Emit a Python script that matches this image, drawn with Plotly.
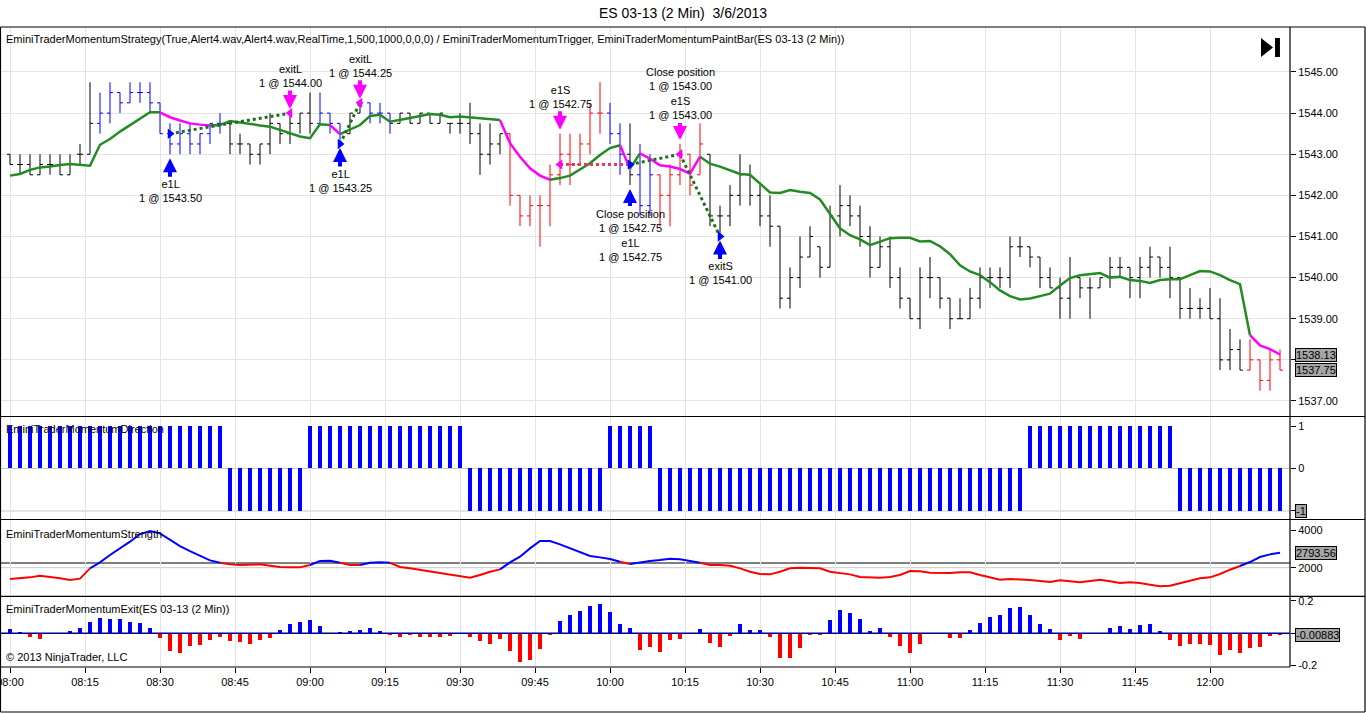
import pandas as pd
import plotly.graph_objects as go

# ---------- data (ES 03-13, 2 min bars, 3/6/2013) ----------
times = list(pd.date_range("2013-03-06 08:00", periods=128, freq="2min"))
time_ticks = list(pd.date_range("2013-03-06 08:00", "2013-03-06 12:00", freq="15min"))

opens = [1543.00, 1542.75, 1542.75, 1542.50, 1542.75, 1542.75, 1542.50, 1543.00, 1543.00, 1543.75,
         1544.00, 1544.50, 1544.25, 1544.50, 1544.50, 1544.25, 1543.50, 1543.25, 1543.50, 1543.25,
         1543.50, 1543.75, 1543.75, 1543.25, 1543.25, 1543.00, 1543.25, 1543.75, 1543.50, 1543.75,
         1544.00, 1543.75, 1544.00, 1543.75, 1543.50, 1544.00, 1544.25, 1544.00, 1544.00, 1543.75,
         1544.00, 1543.75, 1544.00, 1543.75, 1543.75, 1543.75, 1543.75, 1543.50, 1543.00, 1543.25,
         1543.50, 1542.00, 1541.50, 1541.75, 1541.75, 1542.50, 1543.00, 1542.75, 1543.25, 1544.00,
         1544.00, 1543.50, 1543.00, 1542.50, 1541.75, 1542.50, 1542.00, 1542.50, 1543.00, 1542.50,
         1543.00, 1541.50, 1541.50, 1542.00, 1542.50, 1542.00, 1541.50, 1541.25, 1539.50, 1540.00,
         1540.50, 1540.75, 1540.25, 1541.50, 1541.75, 1541.50, 1541.00, 1540.25, 1540.75, 1540.00,
         1539.50, 1539.00, 1540.00, 1540.00, 1539.50, 1539.00, 1539.00, 1539.50, 1540.00, 1540.00,
         1540.00, 1540.75, 1540.75, 1540.50, 1540.00, 1539.75, 1539.50, 1540.00, 1539.75, 1539.75,
         1540.00, 1540.25, 1540.25, 1540.00, 1540.25, 1540.50, 1540.25, 1540.00, 1539.25, 1539.25,
         1539.25, 1539.00, 1538.00, 1538.25, 1537.75, 1538.00, 1537.50, 1538.00]
highs = [1543.00, 1543.00, 1543.00, 1543.00, 1543.00, 1543.00, 1543.00, 1543.25, 1544.75, 1544.50,
         1544.75, 1544.50, 1544.75, 1544.75, 1544.75, 1544.25, 1543.75, 1543.75, 1543.75, 1543.50,
         1543.75, 1544.00, 1543.75, 1543.50, 1543.25, 1543.25, 1544.00, 1543.75, 1544.00, 1544.00,
         1544.50, 1544.50, 1544.00, 1543.75, 1544.00, 1544.25, 1544.25, 1544.25, 1544.00, 1544.00,
         1544.00, 1544.00, 1544.00, 1544.00, 1543.75, 1544.00, 1544.25, 1543.75, 1543.75, 1543.50,
         1543.50, 1542.00, 1542.00, 1542.00, 1542.75, 1543.50, 1543.50, 1543.50, 1544.25, 1544.75,
         1544.25, 1543.75, 1543.75, 1543.25, 1543.00, 1542.50, 1542.75, 1543.25, 1543.00, 1543.75,
         1543.00, 1541.75, 1542.25, 1543.00, 1542.75, 1542.25, 1542.00, 1541.25, 1540.25, 1541.00,
         1541.25, 1540.75, 1541.75, 1542.25, 1542.00, 1541.75, 1541.25, 1541.00, 1541.00, 1540.25,
         1539.50, 1540.25, 1540.50, 1540.00, 1539.50, 1539.50, 1539.75, 1540.25, 1540.25, 1540.25,
         1541.00, 1541.00, 1540.75, 1540.50, 1540.25, 1540.00, 1540.50, 1540.00, 1540.00, 1540.00,
         1540.50, 1540.50, 1540.25, 1540.50, 1540.75, 1540.50, 1540.75, 1540.00, 1539.75, 1539.50,
         1539.75, 1539.50, 1538.75, 1538.50, 1538.50, 1538.00, 1538.25, 1538.25]
lows = [1542.75, 1542.50, 1542.50, 1542.50, 1542.50, 1542.50, 1542.50, 1542.75, 1543.00, 1543.50,
        1543.75, 1544.00, 1544.25, 1544.25, 1544.00, 1543.50, 1543.00, 1543.00, 1543.00, 1543.00,
        1543.25, 1543.50, 1543.00, 1543.00, 1542.75, 1542.75, 1543.00, 1543.25, 1543.25, 1543.50,
        1543.50, 1543.75, 1543.50, 1543.25, 1543.50, 1544.00, 1543.75, 1543.75, 1543.50, 1543.75,
        1543.75, 1543.75, 1543.75, 1543.75, 1543.50, 1543.50, 1543.25, 1542.50, 1542.75, 1543.00,
        1541.75, 1541.25, 1541.25, 1540.75, 1541.25, 1542.25, 1542.25, 1542.75, 1543.00, 1543.50,
        1543.25, 1542.50, 1542.25, 1541.50, 1541.50, 1541.25, 1541.25, 1542.25, 1542.00, 1542.50,
        1541.25, 1541.00, 1541.25, 1541.75, 1541.75, 1541.25, 1540.75, 1539.25, 1539.25, 1539.75,
        1540.50, 1540.00, 1540.25, 1541.00, 1541.25, 1540.75, 1540.00, 1540.25, 1539.75, 1539.25,
        1539.00, 1538.75, 1539.50, 1539.25, 1538.75, 1539.00, 1539.00, 1539.25, 1539.75, 1539.75,
        1539.75, 1540.50, 1540.25, 1539.75, 1539.75, 1539.00, 1539.00, 1539.50, 1539.00, 1539.75,
        1539.75, 1540.00, 1539.50, 1539.50, 1540.00, 1540.00, 1539.50, 1539.00, 1539.00, 1539.00,
        1539.00, 1537.75, 1537.75, 1537.75, 1537.75, 1537.25, 1537.25, 1537.75]
closes = [1542.75, 1542.75, 1542.50, 1542.75, 1542.75, 1542.50, 1542.75, 1543.00, 1543.75, 1544.00,
          1544.50, 1544.25, 1544.50, 1544.50, 1544.25, 1543.50, 1543.25, 1543.50, 1543.25, 1543.50,
          1543.75, 1543.75, 1543.25, 1543.25, 1543.00, 1543.25, 1543.75, 1543.50, 1543.75, 1544.00,
          1543.75, 1544.00, 1543.75, 1543.50, 1544.00, 1544.25, 1544.00, 1544.00, 1543.75, 1544.00,
          1543.75, 1544.00, 1543.75, 1544.00, 1543.75, 1543.75, 1543.50, 1543.00, 1543.25, 1543.50,
          1542.00, 1541.50, 1541.75, 1541.75, 1542.50, 1543.00, 1542.75, 1543.25, 1544.00, 1544.00,
          1543.50, 1543.00, 1542.50, 1541.75, 1542.50, 1542.00, 1542.50, 1543.00, 1542.25, 1543.25,
          1541.50, 1541.50, 1542.00, 1542.50, 1542.00, 1541.50, 1541.25, 1539.50, 1540.00, 1540.50,
          1541.00, 1540.25, 1541.50, 1541.75, 1541.50, 1541.00, 1540.25, 1540.75, 1540.00, 1539.50,
          1539.00, 1540.00, 1540.00, 1539.50, 1539.00, 1539.00, 1539.50, 1540.00, 1540.00, 1540.00,
          1540.75, 1540.75, 1540.50, 1540.00, 1539.75, 1539.50, 1540.00, 1539.75, 1539.75, 1540.00,
          1540.25, 1540.25, 1540.00, 1540.25, 1540.50, 1540.25, 1540.00, 1539.25, 1539.25, 1539.25,
          1539.00, 1538.00, 1538.25, 1537.75, 1538.00, 1537.50, 1538.00, 1537.75]

# EminiTraderMomentumTrigger line
trigger = [1542.48, 1542.52, 1542.62, 1542.68, 1542.70, 1542.74, 1542.76, 1542.74, 1542.72, 1543.23,
           1543.37, 1543.55, 1543.71, 1543.88, 1544.02, 1544.02, 1543.90, 1543.82, 1543.75, 1543.72,
           1543.70, 1543.71, 1543.81, 1543.77, 1543.73, 1543.70, 1543.67, 1543.59, 1543.51, 1543.43,
           1543.39, 1543.73, 1543.71, 1543.49, 1543.59, 1543.71, 1543.93, 1543.96, 1543.79, 1543.83,
           1543.88, 1543.93, 1543.98, 1543.96, 1543.90, 1543.92, 1543.90, 1543.88, 1543.85, 1543.83,
           1543.27, 1542.94, 1542.66, 1542.48, 1542.38, 1542.42, 1542.48, 1542.64, 1542.78, 1542.98,
           1543.15, 1543.22, 1542.65, 1543.02, 1542.89, 1542.73, 1542.70, 1542.64, 1542.53, 1542.94,
           1542.77, 1542.70, 1542.61, 1542.52, 1542.50, 1542.29, 1542.07, 1542.06, 1542.13, 1542.09,
           1542.06, 1541.90, 1541.55, 1541.20, 1541.03, 1540.93, 1540.79, 1540.88, 1540.96, 1540.97,
           1540.97, 1540.88, 1540.89, 1540.76, 1540.57, 1540.30, 1540.15, 1540.06, 1539.89, 1539.69,
           1539.55, 1539.47, 1539.49, 1539.55, 1539.61, 1539.81, 1539.99, 1540.06, 1540.08, 1540.11,
           1540.00, 1540.02, 1539.94, 1539.92, 1539.87, 1539.94, 1539.96, 1539.96, 1540.06, 1540.16,
           1540.15, 1540.06, 1539.94, 1539.84, 1538.60, 1538.35, 1538.26, 1538.13]
# bars where the trigger segment is painted magenta
trigger_down_bars = [16, 17, 18, 19, 20, 33, 50, 51, 52, 53, 54, 62, 64, 65, 66, 67, 68, 69,
                     125, 126, 127]

# EminiTraderMomentumDirection
direction = [1, 1, 1, 1, 1, 1, 1, 1, 1, 1, 1, 1, 1, 1, 1, 1, 1, 1, 1, 1,
             1, 1, -1, -1, -1, -1, -1, -1, -1, -1, 1, 1, 1, 1, 1, 1, 1, 1, 1, 1,
             1, 1, 1, 1, 1, 1, -1, -1, -1, -1, -1, -1, -1, -1, -1, -1, -1, -1, -1, -1,
             1, 1, 1, 1, 1, -1, -1, -1, -1, -1, -1, -1, -1, -1, -1, -1, -1, -1, -1, -1,
             -1, -1, -1, -1, -1, -1, -1, -1, -1, -1, -1, -1, -1, -1, -1, -1, -1, -1, -1, -1,
             -1, -1, 1, 1, 1, 1, 1, 1, 1, 1, 1, 1, 1, 1, 1, 1, 1, -1, -1, -1,
             -1, -1, -1, -1, -1, -1, -1, -1]

# EminiTraderMomentumStrength
strength = [1399, 1434, 1487, 1576, 1523, 1434, 1346, 1417, 1965, 2283,
            2672, 3025, 3379, 3786, 3945, 3821, 3467, 3149, 2884, 2636,
            2389, 2265, 2177, 2141, 2141, 2177, 2106, 2035, 2018, 2018,
            2141, 2354, 2371, 2260, 2141, 2141, 2265, 2290, 2260, 2035,
            1965, 1876, 1788, 1700, 1646, 1540, 1470, 1611, 1788, 1912,
            2280, 2583, 3025, 3414, 3414, 3238, 3025, 2796, 2619, 2548,
            2460, 2318, 2195, 2283, 2354, 2407, 2477, 2442, 2354, 2262,
            2141, 2141, 2106, 1965, 1788, 1664, 1646, 1788, 1965, 2000,
            1982, 1965, 1788, 1699, 1646, 1505, 1487, 1470, 1505, 1611,
            1823, 1806, 1735, 1717, 1717, 1752, 1752, 1611, 1470, 1364,
            1399, 1381, 1346, 1293, 1240, 1328, 1275, 1222, 1293, 1364,
            1275, 1187, 1222, 1187, 1098, 1010, 1045, 1187, 1310, 1434,
            1487, 1664, 1894, 2088, 2300, 2566, 2707, 2793.56]
strength_threshold = 2250

# EminiTraderMomentumExit
exit_vals = [0.027, 0.010, -0.020, -0.035, 0.0, -0.003, 0.017, 0.035, 0.070, 0.095,
             0.090, 0.089, 0.072, 0.066, 0.035, -0.027, -0.107, -0.120, -0.078, -0.072,
             -0.039, -0.020, -0.047, -0.056, -0.066, -0.041, -0.027, 0.020, 0.060, 0.070,
             0.082, 0.045, -0.002, 0.004, 0.016, 0.020, 0.035, 0.014, -0.006, -0.020,
             -0.010, -0.020, -0.020, -0.020, -0.015, -0.002, -0.023, -0.045, -0.064, -0.035,
             -0.107, -0.175, -0.165, -0.095, -0.008, 0.076, 0.113, 0.140, 0.169, 0.181,
             0.132, 0.058, 0.033, -0.101, -0.082, -0.113, -0.039, -0.033, -0.002, 0.027,
             -0.058, -0.082, -0.016, 0.058, 0.021, 0.021, -0.020, -0.155, -0.155, -0.093,
             -0.008, -0.008, 0.082, 0.144, 0.124, 0.089, 0.016, 0.033, -0.020, -0.076,
             -0.120, -0.064, -0.002, -0.002, -0.027, -0.027, 0.021, 0.064, 0.101, 0.113,
             0.157, 0.163, 0.113, 0.058, 0.027, -0.039, -0.015, -0.033, -0.002, -0.002,
             0.033, 0.045, 0.027, 0.052, 0.058, 0.014, -0.039, -0.076, -0.064, -0.064,
             -0.070, -0.132, -0.101, -0.120, -0.089, -0.082, -0.015, -0.00883]

# Strategy fills
fill_bars = [16, 28, 33, 35, 55, 62, 67, 71]
fill_prices = [1543.50, 1544.00, 1543.25, 1544.25, 1542.75, 1542.75, 1543.00, 1541.00]
fill_actions = ["buy", "sell", "buy", "sell", "sell", "buy", "sell", "buy"]
fill_labels = ["e1L<br>1 @ 1543.50", "exitL<br>1 @ 1544.00",
               "e1L<br>1 @ 1543.25", "exitL<br>1 @ 1544.25",
               "e1S<br>1 @ 1542.75",
               "Close position<br>1 @ 1542.75<br>e1L<br>1 @ 1542.75",
               "Close position<br>1 @ 1543.00<br>e1S<br>1 @ 1543.00",
               "exitS<br>1 @ 1541.00"]
# trades as (entry fill, exit fill)
trade_entry = [0, 2, 4, 5, 6]
trade_exit = [1, 3, 5, 6, 7]

title_text = "ES 03-13 (2 Min)  3/6/2013"
strategy_text = ("EminiTraderMomentumStrategy(True,Alert4.wav,Alert4.wav,RealTime,1,500,1000,0,0,0) / "
                 "EminiTraderMomentumTrigger, EminiTraderMomentumPaintBar(ES 03-13 (2 Min))")

########## styling ##########
FONT = "Liberation Sans, Arial, sans-serif"
BLUE = "#0000FF"
RED = "#FF0000"
MAGENTA = "#FF00FF"
GREEN = "#228B22"
GRID = "#E4E4E4"


def colored_runs(xs, ys, flags, wanted):
    # segment k-1 -> k gets the colour of bar k; join consecutive segments
    out_x, out_y = [], []
    last = None
    for k in range(1, len(ys)):
        if flags[k] != wanted:
            continue
        if last != k - 1:
            if out_x:
                out_x.append(None)
                out_y.append(None)
            out_x.append(xs[k - 1])
            out_y.append(ys[k - 1])
        out_x.append(xs[k])
        out_y.append(ys[k])
        last = k
    return out_x, out_y


fig = go.Figure()

# ---- price bars painted by strength / direction ----
paint = []
for k in range(len(closes)):
    if strength[k] >= strength_threshold:
        paint.append(BLUE if direction[k] > 0 else RED)
    else:
        paint.append("#000000")

for color in ["#000000", BLUE, RED]:
    idx = [k for k in range(len(closes)) if paint[k] == color]
    fig.add_trace(go.Ohlc(
        x=[times[k] for k in idx],
        open=[opens[k] for k in idx],
        high=[highs[k] for k in idx],
        low=[lows[k] for k in idx],
        close=[closes[k] for k in idx],
        increasing=dict(line=dict(color=color, width=1)),
        decreasing=dict(line=dict(color=color, width=1)),
        tickwidth=0.3,
        hoverinfo="skip",
        showlegend=False,
        yaxis="y",
    ))

# ---- trigger line, green / magenta ----
trig_flags = ["m" if k in trigger_down_bars else "g" for k in range(len(trigger))]
for flag, color in [("g", GREEN), ("m", MAGENTA)]:
    tx, ty = colored_runs(times, trigger, trig_flags, flag)
    fig.add_trace(go.Scatter(x=tx, y=ty, mode="lines", line=dict(color=color, width=2.5),
                             hoverinfo="skip", showlegend=False, yaxis="y"))

# ---- trade lines and fill triangles ----
for e, x in zip(trade_entry, trade_exit):
    if fill_actions[e] == "buy":
        profit = fill_prices[x] - fill_prices[e]
    else:
        profit = fill_prices[e] - fill_prices[x]
    fig.add_trace(go.Scatter(
        x=[times[fill_bars[e]], times[fill_bars[x]]],
        y=[fill_prices[e], fill_prices[x]],
        mode="lines",
        line=dict(color="#1E6E1E" if profit > 0 else "#E8385E", width=3, dash="dot"),
        hoverinfo="skip", showlegend=False, yaxis="y"))

for action, symbol, color in [("buy", "triangle-right", BLUE), ("sell", "triangle-left", MAGENTA)]:
    idx = [i for i in range(len(fill_bars)) if fill_actions[i] == action]
    fig.add_trace(go.Scatter(
        x=[times[fill_bars[i]] for i in idx],
        y=[fill_prices[i] for i in idx],
        mode="markers",
        marker=dict(symbol=symbol, size=9, color=color),
        hoverinfo="skip", showlegend=False, yaxis="y"))

# ---- direction panel ----
fig.add_trace(go.Bar(x=times, y=direction, width=50000, marker=dict(color=BLUE, line=dict(width=0)),
                     hoverinfo="skip", showlegend=False, yaxis="y2"))

# ---- strength panel ----
str_flags = ["b" if v >= strength_threshold else "r" for v in strength]
for flag, color in [("r", RED), ("b", BLUE)]:
    sx, sy = colored_runs(times, strength, str_flags, flag)
    fig.add_trace(go.Scatter(x=sx, y=sy, mode="lines", line=dict(color=color, width=2),
                             hoverinfo="skip", showlegend=False, yaxis="y3"))

# ---- exit histogram ----
fig.add_trace(go.Bar(x=times, y=exit_vals, width=48000,
                     marker=dict(color=[BLUE if v > 0 else RED for v in exit_vals], line=dict(width=0)),
                     hoverinfo="skip", showlegend=False, yaxis="y4"))

########## layout ##########
axis_font = dict(family=FONT, size=11, color="#000000")
yaxis_common = dict(side="right", anchor="x", ticks="outside", ticklen=5, tickcolor="#000000",
                    tickfont=axis_font, zeroline=False, showline=False, fixedrange=True)

price_ticks = [1537, 1538, 1539, 1540, 1541, 1542, 1543, 1544, 1545]
# the 1538 label sits under the last-value boxes
price_ticktext = ["%.2f" % v if v != 1538 else "" for v in price_ticks]

fig.update_layout(
    width=1366, height=713,
    margin=dict(l=1, r=76, t=27, b=46, autoexpand=False),
    paper_bgcolor="white", plot_bgcolor="white",
    font=dict(family=FONT, size=11, color="#000000"),
    title=dict(text=title_text, x=0.5, xanchor="center", y=0.982, yanchor="middle",
               font=dict(family=FONT, size=14, color="#000000")),
    showlegend=False,
    bargap=0,
    xaxis=dict(
        type="date", anchor="y4",
        range=["2013-03-06 07:58:12", "2013-03-06 12:16:00"],
        tickvals=time_ticks, ticktext=[t.strftime("%H:%M") for t in time_ticks],
        ticks="outside", ticklen=5, tickcolor="#000000", tickfont=axis_font,
        ticklabeloverflow="allow",
        showgrid=True, gridcolor=GRID, gridwidth=1,
        rangeslider=dict(visible=False), zeroline=False, showline=False,
    ),
    yaxis=dict(domain=[0.3922, 1.0], range=[1536.635, 1546.094],
               tickvals=price_ticks, ticktext=price_ticktext,
               showgrid=True, gridcolor=GRID, **yaxis_common),
    yaxis2=dict(domain=[0.2313, 0.3906], range=[-1.188, 1.212], tickvals=[1, 0, -1],
                ticktext=["1", "0", ""], showgrid=False, **yaxis_common),
    yaxis3=dict(domain=[0.1125, 0.2281], range=[551, 4477], tickvals=[2000, 4000],
                showgrid=False, **yaxis_common),
    yaxis4=dict(domain=[0.0, 0.1094], range=[-0.2087, 0.2248], tickvals=[-0.2, 0, 0.2],
                ticktext=["-0.2", "", "0.2"], showgrid=False, **yaxis_common),
)

shapes = []
# panel frames (paper coords)
for yp, x1 in [(1.0, 1.0582), (0.3914, 1.0582), (0.2305, 1.0582), (0.1102, 1.0582),
               (0.0, 1.0), (-0.0703, 1.0582)]:
    shapes.append(dict(type="line", xref="paper", yref="paper", x0=-0.0004, x1=x1, y0=yp, y1=yp,
                       line=dict(color="#000000", width=1.2)))
for xp, y0 in [(-0.0004, -0.0703), (1.0582, -0.0703), (1.0, 0.0)]:
    shapes.append(dict(type="line", xref="paper", yref="paper", x0=xp, x1=xp, y0=y0, y1=1.0,
                       line=dict(color="#000000", width=1.2)))
# indicator reference lines
shapes.append(dict(type="line", xref="paper", yref="y2", x0=0, x1=1, y0=0, y1=0,
                   line=dict(color="#C8C8C8", width=1), layer="below"))
shapes.append(dict(type="line", xref="paper", yref="y2", x0=0, x1=1, y0=-1, y1=-1,
                   line=dict(color="#C8C8C8", width=1), layer="below"))
shapes.append(dict(type="line", xref="paper", yref="y3", x0=0, x1=1, y0=2000, y1=2000,
                   line=dict(color="#C8C8C8", width=1), layer="below"))
shapes.append(dict(type="line", xref="paper", yref="y3", x0=0, x1=1,
                   y0=strength_threshold, y1=strength_threshold,
                   line=dict(color="#000000", width=1.2), layer="below"))
shapes.append(dict(type="line", xref="paper", yref="y4", x0=0, x1=1, y0=0, y1=0,
                   line=dict(color="#00008B", width=1.5)))
# "go to last bar" icon
shapes.append(dict(type="path", xref="paper", yref="paper",
                   path="M 0.9775 0.9828 L 0.9775 0.9531 L 0.9868 0.9680 Z",
                   fillcolor="#000000", line=dict(width=0)))
shapes.append(dict(type="rect", xref="paper", yref="paper", x0=0.9884, x1=0.9922, y0=0.9531, y1=0.9828,
                   fillcolor="#000000", line=dict(width=0)))
fig.update_layout(shapes=shapes)

annotations = []
# panel captions
for text, yp in [(strategy_text, 0.9945), ("EminiTraderMomentumDirection", 0.3840),
                 ("EminiTraderMomentumStrength", 0.2200),
                 ("EminiTraderMomentumExit(ES 03-13 (2 Min))", 0.1030),
                 ("\u00a9 2013 NinjaTrader, LLC", 0.0280)]:
    annotations.append(dict(text=text, xref="paper", yref="paper", x=0.002, y=yp,
                            xanchor="left", yanchor="top", showarrow=False,
                            font=dict(family=FONT, size=11, color="#000000")))

# last value boxes on the right axis
for text, yref, yv in [("1538.13", "y", trigger[-1]), ("1537.75", "y", closes[-1]),
                       ("-1", "y2", direction[-1]), ("2793.56", "y3", strength[-1]),
                       ("-0.00883", "y4", exit_vals[-1])]:
    annotations.append(dict(text=text, xref="paper", yref=yref, x=1.0, y=yv, xanchor="left",
                            yanchor="middle", xshift=5, showarrow=False, bgcolor="#A6A6A6",
                            bordercolor="#000000", borderwidth=1, borderpad=0,
                            font=dict(family=FONT, size=11, color="#000000")))

# fill arrows with labels
for i in range(len(fill_bars)):
    k = fill_bars[i]
    nlines = fill_labels[i].count("<br>") + 1
    offset = 22 + nlines * 6.5 + 2
    buy = fill_actions[i] == "buy"
    annotations.append(dict(
        text=fill_labels[i], x=times[k], y=lows[k] if buy else highs[k], xref="x", yref="y",
        showarrow=True, ax=0, ay=offset if buy else -offset, standoff=4,
        arrowhead=2, arrowsize=0.7, arrowwidth=4, arrowcolor=BLUE if buy else MAGENTA,
        font=dict(family=FONT, size=11, color="#000000"), align="center"))

fig.update_layout(annotations=annotations)

# the page body has a default 8px margin; drop it so the figure sits at the window corner
fig.write_html("out.html", config={"displayModeBar": False},
               post_script="document.body.style.margin='0px';")
